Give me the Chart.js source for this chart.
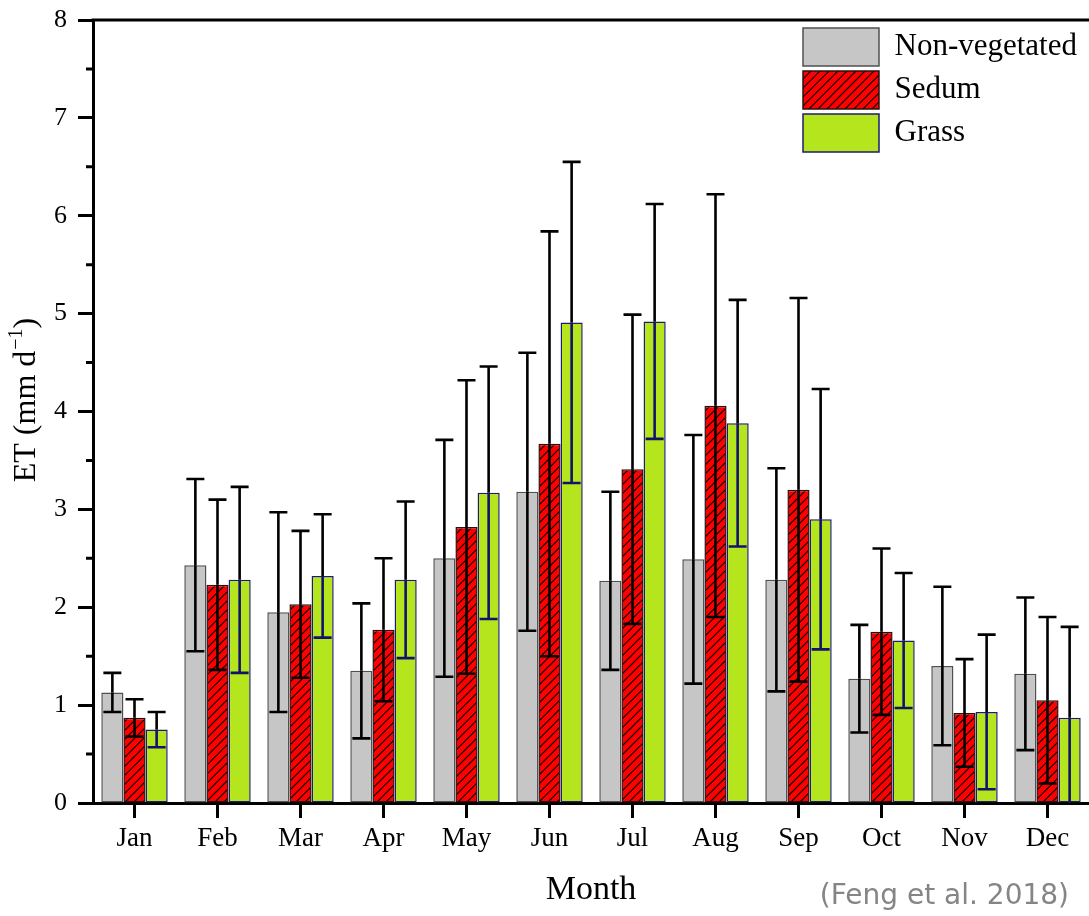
<!DOCTYPE html>
<html>
<head>
<meta charset="utf-8">
<script src="https://cdn.jsdelivr.net/npm/chart.js@4.4.1/dist/chart.umd.min.js"></script>
<style>
  html, body { margin: 0; padding: 0; background: #fff; }
  #wrap { width: 1089px; height: 916px; position: relative; }
</style>
</head>
<body>
<div id="wrap"><canvas id="et"></canvas></div>
<script>
// Monthly mean evapotranspiration (mm/d) with standard deviations
const months = ['Jan', 'Feb', 'Mar', 'Apr', 'May', 'Jun', 'Jul', 'Aug', 'Sep', 'Oct', 'Nov', 'Dec'];
const seriesNames = ['Non-vegetated', 'Sedum', 'Grass'];
const nonVegetated   = [1.13, 2.43, 1.95, 1.35, 2.50, 3.18, 2.27, 2.49, 2.28, 1.27, 1.40, 1.32];
const nonVegetatedSD = [0.20, 0.88, 1.02, 0.69, 1.21, 1.42, 0.91, 1.27, 1.14, 0.55, 0.81, 0.78];
const sedum          = [0.87, 2.23, 2.03, 1.77, 2.82, 3.67, 3.41, 4.06, 3.20, 1.75, 0.92, 1.05];
const sedumSD        = [0.19, 0.87, 0.75, 0.73, 1.50, 2.17, 1.58, 2.16, 1.96, 0.85, 0.55, 0.85];
const grass          = [0.75, 2.28, 2.32, 2.28, 3.17, 4.91, 4.92, 3.88, 2.90, 1.66, 0.93, 0.87];
const grassSD        = [0.18, 0.95, 0.63, 0.80, 1.29, 1.64, 1.20, 1.26, 1.33, 0.69, 0.79, 0.93];
const yTicks = [0, 1, 2, 3, 4, 5, 6, 7, 8];
const yTitle = ['ET (mm d', '\u22121', ')'];
const sourceNote = '(Feng et al. 2018)';

const serif = "'Liberation Serif', 'DejaVu Serif', serif";

// Red fill with black diagonal hatching for the Sedum bars
function hatchPattern() {
  const s = 9;
  const c = document.createElement('canvas');
  c.width = s; c.height = s;
  const g = c.getContext('2d');
  g.fillStyle = '#ff0000';
  g.fillRect(0, 0, s, s);
  g.strokeStyle = '#000';
  g.lineWidth = 1.2;
  g.beginPath();
  g.moveTo(0, s); g.lineTo(s, 0);
  g.moveTo(-1, 1); g.lineTo(1, -1);
  g.moveTo(s - 1, s + 1); g.lineTo(s + 1, s - 1);
  g.stroke();
  return g.createPattern(c, 'repeat');
}

const sdByDataset = [nonVegetatedSD, sedumSD, grassSD];

// Error bars, half-ticks on the value axis, frame line, axis title and source note
const extras = {
  id: 'extras',
  afterLayout(chart) {
    const lg = chart.legend;
    if (lg) {
      const w = lg.width, h = lg.height;
      lg.left = 798; lg.right = lg.left + w;
      lg.top = 23; lg.bottom = lg.top + h;
    }
  },
  afterDatasetsDraw(chart) {
    const ctx = chart.ctx;
    const y = chart.scales.y;
    const area = chart.chartArea;
    ctx.save();
    ctx.beginPath();
    ctx.rect(area.left, area.top - 5, area.right - area.left, area.bottom - area.top + 5);
    ctx.clip();
    ctx.lineWidth = 2.6;
    chart.data.datasets.forEach((ds, i) => {
      const meta = chart.getDatasetMeta(i);
      const sd = sdByDataset[i];
      meta.data.forEach((bar, j) => {
        const m = ds.data[j];
        const x = bar.x;
        const yHi = y.getPixelForValue(m + sd[j]);
        const yLo = y.getPixelForValue(m - sd[j]);
        const yMid = y.getPixelForValue(m);
        const cap = 9;
        const inner = i === 2 ? '#12126e' : '#000';
        // part above the bar top
        ctx.strokeStyle = '#000';
        ctx.beginPath();
        ctx.moveTo(x, yHi); ctx.lineTo(x, yMid);
        ctx.moveTo(x - cap, yHi); ctx.lineTo(x + cap, yHi);
        ctx.stroke();
        // part inside the bar
        ctx.strokeStyle = inner;
        ctx.beginPath();
        ctx.moveTo(x, yMid); ctx.lineTo(x, yLo);
        ctx.moveTo(x - cap, yLo); ctx.lineTo(x + cap, yLo);
        ctx.stroke();
      });
    });
    ctx.restore();
  },
  afterDraw(chart) {
    const ctx = chart.ctx;
    const y = chart.scales.y;
    const area = chart.chartArea;
    ctx.save();
    ctx.strokeStyle = '#000';
    ctx.lineWidth = 3;
    // minor ticks at half units
    ctx.beginPath();
    for (let v = 0.5; v < 8; v += 1) {
      const py = y.getPixelForValue(v);
      ctx.moveTo(area.left - 7, py); ctx.lineTo(area.left, py);
    }
    ctx.stroke();
    // top frame line
    ctx.beginPath();
    ctx.moveTo(area.left - 1.5, area.top); ctx.lineTo(area.right, area.top);
    ctx.stroke();

    // value axis title with superscript exponent
    ctx.fillStyle = '#000';
    ctx.textBaseline = 'alphabetic';
    ctx.textAlign = 'left';
    const mainFont = '32px ' + serif;
    const supFont = '20px ' + serif;
    ctx.font = mainFont;
    const w0 = ctx.measureText(yTitle[0]).width;
    const w2 = ctx.measureText(yTitle[2]).width;
    ctx.font = supFont;
    const w1 = ctx.measureText(yTitle[1]).width;
    const total = w0 + w1 + 1 + w2;
    const cy = 400;
    ctx.translate(35, cy + total / 2);
    ctx.rotate(-Math.PI / 2);
    ctx.font = mainFont;
    ctx.fillText(yTitle[0], 0, 0);
    ctx.font = supFont;
    ctx.fillText(yTitle[1], w0 + 1, -13);
    ctx.font = mainFont;
    ctx.fillText(yTitle[2], w0 + w1 + 1, 0);
    ctx.setTransform(1, 0, 0, 1, 0, 0);

    // source note
    ctx.fillStyle = '#858585';
    ctx.font = "28px 'DejaVu Sans', sans-serif";
    ctx.textAlign = 'right';
    ctx.textBaseline = 'alphabetic';
    ctx.fillText(sourceNote, 1069, 904);
    ctx.restore();
  }
};

new Chart(document.getElementById('et'), {
  type: 'bar',
  data: {
    labels: months,
    datasets: [
      {
        label: seriesNames[0], data: nonVegetated,
        backgroundColor: '#c6c6c6', borderColor: '#505050', borderWidth: 1.5, borderSkipped: false
      },
      {
        label: seriesNames[1], data: sedum,
        backgroundColor: hatchPattern(), borderColor: '#2a1010', borderWidth: 1.5, borderSkipped: false
      },
      {
        label: seriesNames[2], data: grass,
        backgroundColor: '#b5e61d', borderColor: '#1c1c70', borderWidth: 1.5, borderSkipped: false
      }
    ]
  },
  options: {
    responsive: true,
    maintainAspectRatio: false,
    animation: false,
    layout: { padding: { top: 20, right: 0, left: 0, bottom: 0 } },
    datasets: { bar: { categoryPercentage: 0.8, barPercentage: 1.0 } },
    plugins: {
      tooltip: { enabled: false },
      legend: {
        position: 'chartArea',
        align: 'start',
        labels: {
          boxWidth: 76, boxHeight: 38, padding: 5,
          color: '#000',
          font: { family: serif, size: 31 }
        }
      }
    },
    scales: {
      x: {
        grid: { display: true, drawOnChartArea: false, offset: false, tickLength: 15, tickWidth: 3, tickColor: '#000' },
        border: { display: true, color: '#000', width: 3 },
        ticks: { color: '#000', padding: 5, font: { family: serif, size: 27 }, maxRotation: 0 },
        title: { display: true, text: 'Month', color: '#000', font: { family: serif, size: 34 }, padding: { top: 0, bottom: 6 } },
        afterFit(scale) { scale.height = 113; scale.paddingLeft = 0; scale.paddingRight = 0; }
      },
      y: {
        min: yTicks[0], max: yTicks[yTicks.length - 1],
        afterBuildTicks(scale) { scale.ticks = yTicks.map(v => ({ value: v })); },
        grid: { display: true, drawOnChartArea: false, tickLength: 15, tickWidth: 3, tickColor: '#000' },
        border: { display: true, color: '#000', width: 3 },
        ticks: { color: '#000', padding: 11, font: { family: serif, size: 26 } },
        title: { display: false },
        afterFit(scale) { scale.width = 93; scale.paddingTop = 0; scale.paddingBottom = 0; }
      }
    }
  },
  plugins: [extras]
});
</script>
</body>
</html>
